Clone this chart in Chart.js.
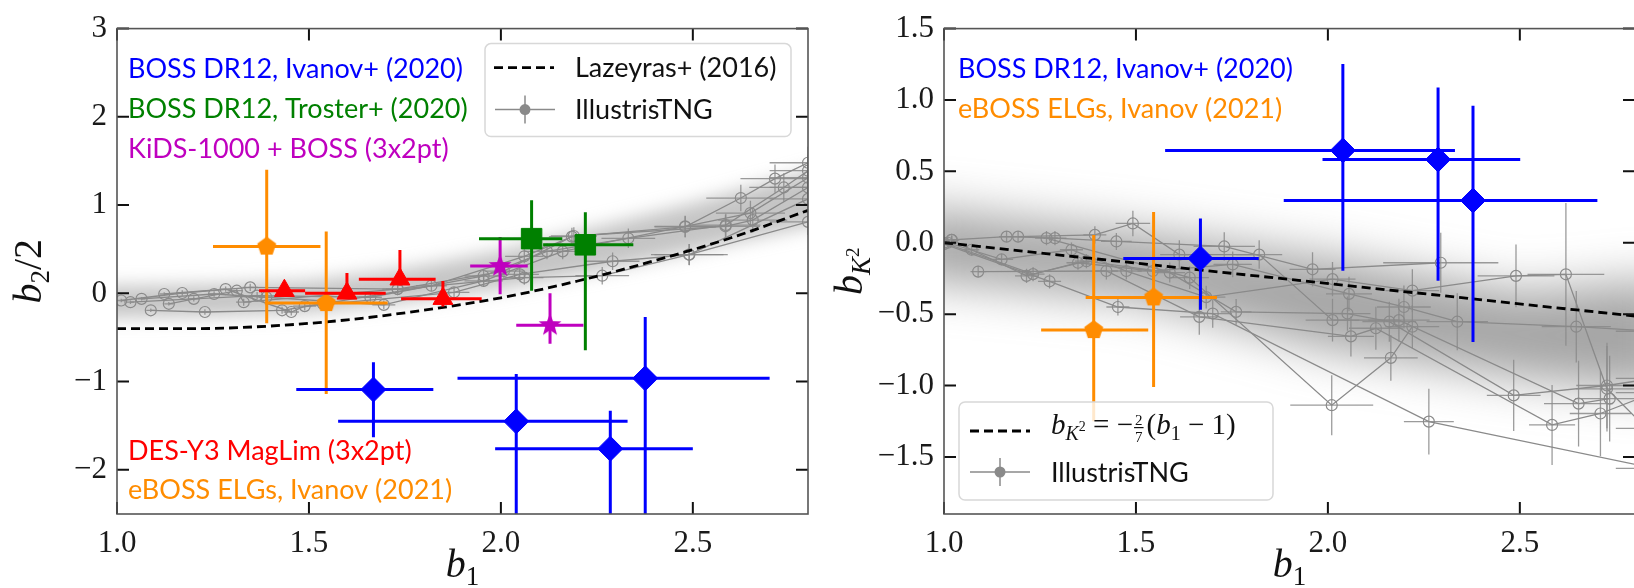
<!DOCTYPE html>
<html>
<head>
<meta charset="utf-8">
<script src="https://cdn.jsdelivr.net/npm/chart.js@4.4.1/dist/chart.umd.min.js"></script>
<style>
  html, body { margin: 0; padding: 0; background: #fff; overflow: hidden; }
  #wrap { position: relative; width: 1634px; height: 588px; overflow: hidden; }
  canvas { position: absolute; top: 0; }
  #bias2 { left: 0; }
  #biasK { left: 830px; }
</style>
</head>
<body>
<div id="wrap">
  <canvas id="bias2" width="830" height="588"></canvas>
  <canvas id="biasK" width="830" height="588"></canvas>
</div>
<script>
// ticks
const b1Ticks = [1.0, 1.5, 2.0, 2.5];
const b1Labels = ['1.0', '1.5', '2.0', '2.5'];
const b2Ticks = [-2, -1, 0, 1, 2, 3];
const b2Labels = ['−2', '−1', '0', '1', '2', '3'];
const bKTicks = [-1.5, -1.0, -0.5, 0.0, 0.5, 1.0, 1.5];
const bKLabels = ['−1.5', '−1.0', '−0.5', '0.0', '0.5', '1.0', '1.5'];

const surveyNamesB2 = ['BOSS DR12, Ivanov+ (2020)', 'BOSS DR12, Troster+ (2020)', 'KiDS-1000 + BOSS (3x2pt)',
  'DES-Y3 MagLim (3x2pt)', 'eBOSS ELGs, Ivanov (2021)'];
const surveyNamesBK = ['BOSS DR12, Ivanov+ (2020)', 'eBOSS ELGs, Ivanov (2021)'];

// measurements: [b1, value, b1 low, b1 high, value low, value high]
const bossB2 = [
  [1.668, -1.09, 1.467, 1.824, -1.63, -0.78],
  [2.040, -1.45, 1.576, 2.330, -2.60, -0.915],
  [2.376, -0.963, 1.887, 2.700, -2.60, -0.267],
  [2.285, -1.76, 1.985, 2.500, -2.60, -1.33]
];
const trosterB2 = [
  [2.080, 0.62, 1.943, 2.160, 0.03, 1.056],
  [2.220, 0.55, 2.110, 2.345, -0.645, 0.918]
];
const kidsB2 = [
  [1.998, 0.31, 1.920, 2.070, -0.01, 0.64],
  [2.128, -0.36, 2.040, 2.215, -0.57, 0.0]
];
const desB2 = [
  [1.436, 0.03, 1.370, 1.490, -0.02, 0.10],
  [1.599, 0.00, 1.490, 1.700, -0.06, 0.23],
  [1.737, 0.16, 1.630, 1.830, 0.09, 0.49],
  [1.849, -0.06, 1.740, 1.950, -0.15, 0.14]
];
const ebossB2 = [
  [1.390, 0.53, 1.250, 1.530, -0.34, 1.40],
  [1.545, -0.11, 1.385, 1.705, -1.14, 0.70]
];
const bossBK = [
  [1.668, -0.11, 1.467, 1.820, -0.47, 0.17],
  [2.039, 0.647, 1.576, 2.331, -0.197, 1.252],
  [2.287, 0.583, 1.986, 2.501, -0.266, 1.087],
  [2.378, 0.296, 1.885, 2.702, -0.695, 0.96]
];
const ebossBK = [
  [1.390, -0.612, 1.253, 1.532, -1.25, 0.055],
  [1.546, -0.383, 1.369, 1.711, -1.01, 0.216]
];

// Lazeyras+ (2016) fit and the local-Lagrangian tidal bias
const lazB1 = [1.0, 1.2, 1.4, 1.6, 1.8, 2.0, 2.2, 2.4, 2.6, 2.8];
const lazB2 = [-0.40, -0.40, -0.37, -0.30, -0.19, -0.05, 0.14, 0.37, 0.63, 0.94];
const tidalB1 = [1.0, 2.8];
const tidalBK = [0.0, -0.514];

// IllustrisTNG tracks: [b1, value, b1 err, value err]
const tngB2a = [[1.011, -0.081, 0.01, 0.02], [1.170, 0.004, 0.015, 0.03], [1.347, 0.068, 0.02, 0.04], [1.731, 0.049, 0.04, 0.06],
  [2.008, 0.253, 0.05, 0.08], [2.185, 0.643, 0.06, 0.10], [2.480, 0.754, 0.08, 0.12], [2.625, 1.080, 0.09, 0.15], [2.714, 1.300, 0.09, 0.16], [2.80, 1.48, 0.10, 0.18]];
const tngB2b = [[1.035, -0.100, 0.01, 0.02], [1.200, -0.062, 0.015, 0.03], [1.365, -0.025, 0.02, 0.04], [1.660, -0.044, 0.03, 0.05],
  [1.955, 0.197, 0.05, 0.08], [2.120, 0.476, 0.06, 0.09], [2.332, 0.624, 0.07, 0.11], [2.586, 0.773, 0.09, 0.13], [2.737, 1.200, 0.09, 0.16], [2.80, 1.39, 0.10, 0.18]];
const tngB2c = [[1.064, -0.062, 0.01, 0.02], [1.253, -0.007, 0.015, 0.03], [1.389, -0.044, 0.02, 0.04], [1.695, -0.130, 0.03, 0.05],
  [1.955, 0.142, 0.05, 0.07], [2.161, 0.476, 0.06, 0.09], [2.480, 0.760, 0.08, 0.12], [2.650, 0.910, 0.09, 0.14], [2.80, 1.31, 0.10, 0.17]];
const tngB2d = [[1.088, -0.192, 0.012, 0.02], [1.229, -0.211, 0.015, 0.03], [1.430, -0.192, 0.02, 0.04], [1.536, -0.118, 0.03, 0.05],
  [1.819, 0.086, 0.04, 0.06], [2.061, 0.420, 0.05, 0.08], [2.190, 0.650, 0.06, 0.10], [2.585, 0.760, 0.09, 0.13], [2.656, 0.830, 0.09, 0.14], [2.80, 1.20, 0.10, 0.17]];
const tngB2e = [[1.123, -0.007, 0.012, 0.02], [1.283, 0.049, 0.015, 0.03], [1.454, -0.211, 0.02, 0.04], [1.489, -0.144, 0.03, 0.05],
  [1.878, 0.012, 0.04, 0.06], [2.049, 0.216, 0.05, 0.08], [2.291, 0.364, 0.07, 0.10], [2.491, 0.439, 0.10, 0.12], [2.80, 1.07, 0.10, 0.16]];
const tngB2f = [[1.135, -0.118, 0.012, 0.02], [1.312, 0.030, 0.015, 0.03], [1.330, -0.100, 0.02, 0.04], [1.731, 0.049, 0.03, 0.05],
  [2.061, 0.179, 0.05, 0.08], [2.264, 0.200, 0.07, 0.10], [2.490, 0.440, 0.09, 0.12], [2.80, 0.81, 0.10, 0.15]];

const tngBKa = [[1.020, 0.020, 0.02, 0.03], [1.163, 0.043, 0.02, 0.04], [1.289, 0.032, 0.03, 0.05], [1.449, 0.009, 0.04, 0.06],
  [1.730, -0.026, 0.08, 0.10], [1.960, -0.186, 0.06, 0.12], [2.294, -0.140, 0.15, 0.21]];
const tngBKb = [[1.010, 0.000, 0.02, 0.03], [1.150, -0.117, 0.03, 0.04], [1.332, -0.049, 0.03, 0.05], [1.475, -0.198, 0.04, 0.06],
  [1.683, -0.381, 0.05, 0.08], [2.012, -0.255, 0.06, 0.12], [2.220, -0.335, 0.07, 0.15], [2.490, -0.232, 0.10, 0.22],
  [2.620, -0.221, 0.10, 0.50], [2.727, -1.023, 0.08, 0.30], [2.830, -1.300, 0.08, 0.30]];
const tngBKc = [[1.020, 0.020, 0.02, 0.03], [1.072, -0.049, 0.02, 0.04], [1.215, -0.232, 0.03, 0.05], [1.349, -0.140, 0.03, 0.05],
  [1.544, -0.198, 0.04, 0.07], [1.752, -0.152, 0.05, 0.09], [2.055, -0.358, 0.06, 0.12], [2.198, -0.450, 0.07, 0.15],
  [2.337, -0.553, 0.08, 0.20], [2.647, -0.588, 0.09, 0.25], [2.850, -0.620, 0.10, 0.30]];
const tngBKd = [[1.000, 0.000, 0.02, 0.03], [1.232, -0.220, 0.03, 0.05], [1.371, -0.129, 0.03, 0.05], [1.588, -0.209, 0.04, 0.07],
  [1.761, -0.484, 0.04, 0.09], [2.051, -0.496, 0.06, 0.12], [2.160, -0.553, 0.07, 0.14], [2.484, -1.069, 0.07, 0.25],
  [2.727, -1.000, 0.08, 0.30], [2.850, -0.950, 0.10, 0.30]];
const tngBKe = [[1.000, -0.010, 0.02, 0.03], [1.275, -0.270, 0.03, 0.05], [1.453, -0.450, 0.03, 0.06], [1.700, -0.496, 0.05, 0.10],
  [2.263, -1.253, 0.065, 0.23], [2.850, -1.580, 0.10, 0.30]];
const tngBKf = [[1.089, -0.202, 0.02, 0.04], [1.423, -0.198, 0.03, 0.06], [1.665, -0.519, 0.05, 0.125], [2.060, -0.656, 0.06, 0.14],
  [2.125, -0.599, 0.07, 0.15], [2.584, -1.276, 0.06, 0.28], [2.710, -1.196, 0.08, 0.30], [2.850, -1.050, 0.10, 0.30]];
const tngBKg = [[1.193, 0.043, 0.02, 0.04], [1.393, 0.055, 0.03, 0.06], [1.492, 0.135, 0.045, 0.09], [1.613, -0.083, 0.05, 0.10],
  [1.821, -0.083, 0.06, 0.10], [2.012, -0.542, 0.07, 0.15], [2.185, -0.542, 0.08, 0.15], [2.653, -1.127, 0.09, 0.30], [2.734, -1.092, 0.09, 0.30]];
const tngBKh = [[1.267, 0.032, 0.03, 0.05], [1.640, -0.244, 0.05, 0.08], [2.010, -1.138, 0.108, 0.21], [2.164, -0.806, 0.07, 0.16],
  [2.220, -0.588, 0.07, 0.15]];

// shaded TNG scatter envelope
const bandB1 = [0.9, 1.25, 1.5, 1.75, 2.0, 2.25, 2.5, 2.9];
const bandB2Lo = [-0.28, -0.26, -0.22, -0.10, 0.05, 0.25, 0.48, 0.85];
const bandB2Hi = [0.08, 0.10, 0.14, 0.28, 0.48, 0.75, 1.02, 1.50];
const bandKB1 = [0.9, 1.5, 2.0, 2.5, 2.9];
const bandKLo = [-0.25, -0.40, -0.75, -0.95, -1.05];
const bandKHi = [0.25, 0.08, -0.10, -0.35, -0.25];

const BLUE = '#0000ff', GREEN = '#008000', MAGENTA = '#bf00bf', RED = '#ff0000', ORANGE = '#ff8c00', GREY = '#8a8a8a';
const LABEL_FONT = '27px Lato, "Open Sans", sans-serif';
const SERIF = '"Liberation Serif", "DejaVu Serif", serif';
const tickFont = { family: SERIF, size: 31 };

function polyMarker(color, r, points, inner) {
  const s = Math.ceil(2 * r + 2);
  const c = document.createElement('canvas');
  c.width = c.height = s;
  const g = c.getContext('2d');
  g.fillStyle = color;
  g.beginPath();
  const n = inner ? points * 2 : points;
  for (let i = 0; i < n; i++) {
    const t = -Math.PI / 2 + i * 2 * Math.PI / n;
    const rr = inner && i % 2 ? r * inner : r;
    g.lineTo(s / 2 + rr * Math.cos(t), s / 2 + rr * Math.sin(t));
  }
  g.closePath();
  g.fill();
  return c;
}
const pentagon = polyMarker(ORANGE, 10, 5);
const starMark = polyMarker(MAGENTA, 12, 5, 0.42);

function obsSet(rows, color, style, radius) {
  return {
    data: rows.map(r => ({ x: r[0], y: r[1], xl: r[2], xh: r[3], yl: r[4], yh: r[5] })),
    showLine: false, pointStyle: style, pointRadius: radius,
    pointBackgroundColor: color, pointBorderColor: color, pointBorderWidth: 1,
    errColor: color, errWidth: 3, clip: 0, order: 0
  };
}
function tngSet(rows) {
  return {
    data: rows.map(r => ({ x: r[0], y: r[1], xl: r[0] - r[2], xh: r[0] + r[2], yl: r[1] - r[3], yh: r[1] + r[3] })),
    showLine: true, borderColor: GREY, borderWidth: 1.3,
    pointStyle: 'circle', pointRadius: 5.5, pointBorderColor: GREY,
    pointBackgroundColor: 'rgba(0,0,0,0)', pointBorderWidth: 1.2,
    errColor: 'rgba(138,138,138,0.85)', errWidth: 1.3, clip: 0, order: 2
  };
}
function curveSet(xs, ys) {
  return {
    data: xs.map((v, i) => ({ x: v, y: ys[i] })),
    showLine: true, borderColor: '#000', borderWidth: 2.8, borderDash: [9, 5],
    cubicInterpolationMode: 'monotone', pointRadius: 0, clip: 0, order: 1
  };
}

function axisX() {
  return {
    type: 'linear', min: 1.0, max: 2.8,
    afterBuildTicks: s => { s.ticks = b1Ticks.map(v => ({ value: v })); },
    afterFit: s => { s.height = 74; },
    grid: { display: false, drawTicks: false }, border: { display: false },
    ticks: { autoSkip: false, maxRotation: 0, padding: 11, color: '#1a1a1a', font: tickFont, callback: (v, i) => b1Labels[i] }
  };
}
function axisY(min, max, ticks, labels, width) {
  return {
    type: 'linear', min: min, max: max,
    afterBuildTicks: s => { s.ticks = ticks.map(v => ({ value: v })); },
    afterFit: s => { s.width = width; },
    grid: { display: false, drawTicks: false }, border: { display: false },
    ticks: { autoSkip: false, padding: 10, color: '#1a1a1a', font: tickFont, callback: (v, i) => labels[i] }
  };
}

function clipToArea(ctx, a) {
  ctx.beginPath();
  ctx.rect(a.left, a.top, a.right - a.left, a.bottom - a.top);
  ctx.clip();
}

// soft grey envelope behind the simulation tracks
const shadedBand = {
  id: 'shadedBand',
  beforeDatasetsDraw(chart, args, o) {
    const { ctx, chartArea: a, scales: { x, y } } = chart;
    ctx.save();
    clipToArea(ctx, a);
    ctx.filter = `blur(${o.blur}px)`;
    ctx.fillStyle = o.color;
    ctx.beginPath();
    o.xs.forEach((v, i) => ctx.lineTo(x.getPixelForValue(v), y.getPixelForValue(o.hi[i])));
    for (let i = o.xs.length - 1; i >= 0; i--) ctx.lineTo(x.getPixelForValue(o.xs[i]), y.getPixelForValue(o.lo[i]));
    ctx.closePath();
    ctx.fill();
    ctx.restore();
  }
};

const errorBars = {
  id: 'errorBars',
  beforeDatasetDraw(chart, args) {
    const ds = chart.data.datasets[args.index];
    if (!ds.errColor) return;
    const { ctx, chartArea: a, scales: { x, y } } = chart;
    ctx.save();
    clipToArea(ctx, a);
    ctx.strokeStyle = ds.errColor;
    ctx.lineWidth = ds.errWidth;
    ctx.beginPath();
    ds.data.forEach(p => {
      const px = x.getPixelForValue(p.x), py = y.getPixelForValue(p.y);
      ctx.moveTo(x.getPixelForValue(p.xl), py);
      ctx.lineTo(x.getPixelForValue(p.xh), py);
      ctx.moveTo(px, y.getPixelForValue(p.yl));
      ctx.lineTo(px, y.getPixelForValue(p.yh));
    });
    ctx.stroke();
    ctx.restore();
  }
};

// boxed axes with inward ticks on all four sides
const frame = {
  id: 'frame',
  afterDatasetsDraw(chart) {
    const { ctx, chartArea: a, scales: { x, y } } = chart;
    ctx.save();
    ctx.strokeStyle = '#111';
    ctx.lineWidth = 2;
    ctx.beginPath();
    x.ticks.forEach(t => {
      const px = x.getPixelForValue(t.value);
      ctx.moveTo(px, a.bottom); ctx.lineTo(px, a.bottom - 12);
      ctx.moveTo(px, a.top); ctx.lineTo(px, a.top + 12);
    });
    y.ticks.forEach(t => {
      const py = y.getPixelForValue(t.value);
      ctx.moveTo(a.left, py); ctx.lineTo(a.left + 12, py);
      ctx.moveTo(a.right, py); ctx.lineTo(a.right - 12, py);
    });
    ctx.stroke();
    ctx.strokeStyle = '#555';
    ctx.lineWidth = 1.6;
    ctx.strokeRect(a.left, a.top, a.right - a.left, a.bottom - a.top);
    ctx.restore();
  }
};

// runs: [text, size, italic, baseline shift]
function runsWidth(ctx, runs) {
  let w = 0;
  runs.forEach(r => { ctx.font = `${r[2] ? 'italic ' : ''}${r[1]}px ${SERIF}`; w += ctx.measureText(r[0]).width; });
  return w;
}
function drawRuns(ctx, runs, x, y) {
  runs.forEach(r => {
    ctx.font = `${r[2] ? 'italic ' : ''}${r[1]}px ${SERIF}`;
    ctx.fillText(r[0], x, y + r[3]);
    x += ctx.measureText(r[0]).width;
  });
  return x;
}
function drawTitleX(chart, runs) {
  const { ctx, chartArea: a } = chart;
  ctx.fillStyle = '#111';
  drawRuns(ctx, runs, (a.left + a.right) / 2 - runsWidth(ctx, runs) / 2, a.bottom + 63);
}
function drawTitleY(chart, runs, offset) {
  const { ctx, chartArea: a } = chart;
  ctx.save();
  ctx.translate(a.left - offset, (a.top + a.bottom) / 2);
  ctx.rotate(-Math.PI / 2);
  ctx.fillStyle = '#111';
  drawRuns(ctx, runs, -runsWidth(ctx, runs) / 2, 0);
  ctx.restore();
}

function legendBox(ctx, x0, y0, w, h) {
  ctx.save();
  ctx.fillStyle = 'rgba(255,255,255,0.8)';
  ctx.strokeStyle = '#d8d8d8';
  ctx.lineWidth = 1.5;
  ctx.beginPath();
  ctx.roundRect(x0, y0, w, h, 6);
  ctx.fill();
  ctx.stroke();
  ctx.restore();
}
function dashSample(ctx, x0, x1, y) {
  ctx.save();
  ctx.strokeStyle = '#000';
  ctx.lineWidth = 2.8;
  ctx.setLineDash([9, 5]);
  ctx.beginPath(); ctx.moveTo(x0, y); ctx.lineTo(x1, y); ctx.stroke();
  ctx.restore();
}
function tngSample(ctx, cx, cy) {
  ctx.save();
  ctx.strokeStyle = GREY;
  ctx.lineWidth = 1.5;
  ctx.beginPath();
  ctx.moveTo(cx - 30, cy); ctx.lineTo(cx + 30, cy);
  ctx.moveTo(cx, cy - 14); ctx.lineTo(cx, cy + 14);
  ctx.stroke();
  ctx.fillStyle = GREY;
  ctx.beginPath(); ctx.arc(cx, cy, 5.5, 0, Math.PI * 2); ctx.fill();
  ctx.restore();
}

const b2Extras = {
  id: 'b2Extras',
  afterDraw(chart) {
    const { ctx, chartArea: a } = chart;
    ctx.save();
    ctx.font = LABEL_FONT;
    const colors = [BLUE, GREEN, MAGENTA, RED, ORANGE];
    const baselines = [a.top + 49, a.top + 89, a.top + 129, a.bottom - 54, a.bottom - 15];
    surveyNamesB2.forEach((t, i) => { ctx.fillStyle = colors[i]; ctx.fillText(t, a.left + 11, baselines[i]); });

    const x0 = a.right - 323, y0 = a.top + 15;
    legendBox(ctx, x0, y0, 306, 93);
    dashSample(ctx, x0 + 9, x0 + 69, a.top + 39);
    tngSample(ctx, x0 + 40, a.top + 81);
    ctx.font = LABEL_FONT;
    ctx.fillStyle = '#111';
    ctx.fillText('Lazeyras+ (2016)', x0 + 90, a.top + 48);
    ctx.fillText('IllustrisTNG', x0 + 90, a.top + 90);

    drawTitleX(chart, [['b', 40, true, 0], ['1', 27, false, 8]]);
    drawTitleY(chart, [['b', 40, true, 0], ['2', 27, false, 8], ['/2', 40, false, 0]], 76);
    ctx.restore();
  }
};

const bKExtras = {
  id: 'bKExtras',
  afterDraw(chart) {
    const { ctx, chartArea: a } = chart;
    ctx.save();
    ctx.font = LABEL_FONT;
    ctx.fillStyle = BLUE; ctx.fillText(surveyNamesBK[0], a.left + 14, a.top + 49);
    ctx.fillStyle = ORANGE; ctx.fillText(surveyNamesBK[1], a.left + 14, a.top + 89);

    const x0 = a.left + 15, y0 = a.bottom - 112;
    legendBox(ctx, x0, y0, 314, 98);
    dashSample(ctx, x0 + 11, x0 + 71, a.bottom - 83);
    tngSample(ctx, x0 + 41, a.bottom - 42);

    // b_{K^2} = -2/7 (b_1 - 1)
    ctx.fillStyle = '#111';
    const base = a.bottom - 80;
    let cx = drawRuns(ctx, [['b', 29, true, 0], ['K', 20, true, 6], ['2', 14, false, -3], [' = −', 29, false, 0]], x0 + 92, base);
    ctx.font = `15px ${SERIF}`;
    const fw = ctx.measureText('7').width;
    ctx.fillText('2', cx + 2, base - 9);
    ctx.fillText('7', cx + 2, base + 8);
    ctx.fillRect(cx + 1, base - 7, fw + 2, 1.2);
    drawRuns(ctx, [['(', 29, false, 0], ['b', 29, true, 0], ['1', 20, false, 6], [' − 1)', 29, false, 0]], cx + fw + 6, base);

    ctx.font = LABEL_FONT;
    ctx.fillText('IllustrisTNG', x0 + 92, a.bottom - 32);

    drawTitleX(chart, [['b', 40, true, 0], ['1', 27, false, 8]]);
    drawTitleY(chart, [['b', 40, true, 0], ['K', 27, true, 8], ['2', 19, false, -3]], 82);
    ctx.restore();
  }
};

const common = {
  responsive: false, animation: false, events: []
};

new Chart(document.getElementById('bias2'), {
  type: 'scatter',
  data: {
    datasets: [
      obsSet(bossB2, BLUE, 'rectRot', 12.5),
      obsSet(trosterB2, GREEN, 'rect', 14.5),
      obsSet(kidsB2, MAGENTA, starMark, 10),
      obsSet(desB2, RED, 'triangle', 11.5),
      obsSet(ebossB2, ORANGE, pentagon, 10),
      curveSet(lazB1, lazB2),
      tngSet(tngB2a), tngSet(tngB2b), tngSet(tngB2c),
      tngSet(tngB2d), tngSet(tngB2e), tngSet(tngB2f)
    ]
  },
  options: {
    ...common,
    layout: { padding: { top: 20, right: 22, left: 0, bottom: 0 } },
    scales: { x: axisX(), y: axisY(-2.5, 3, b2Ticks, b2Labels, 117) },
    plugins: {
      legend: { display: false }, tooltip: { enabled: false },
      shadedBand: { xs: bandB1, lo: bandB2Lo, hi: bandB2Hi, color: 'rgba(140,140,140,0.5)', blur: 9 }
    }
  },
  plugins: [shadedBand, errorBars, frame, b2Extras]
});

new Chart(document.getElementById('biasK'), {
  type: 'scatter',
  data: {
    datasets: [
      obsSet(bossBK, BLUE, 'rectRot', 12.5),
      obsSet(ebossBK, ORANGE, pentagon, 10),
      curveSet(tidalB1, tidalBK),
      tngSet(tngBKa), tngSet(tngBKb), tngSet(tngBKc), tngSet(tngBKd),
      tngSet(tngBKe), tngSet(tngBKf), tngSet(tngBKg), tngSet(tngBKh)
    ]
  },
  options: {
    ...common,
    layout: { padding: { top: 20, right: 25, left: 0, bottom: 0 } },
    scales: { x: axisX(), y: axisY(-1.9, 1.5, bKTicks, bKLabels, 114) },
    plugins: {
      legend: { display: false }, tooltip: { enabled: false },
      shadedBand: { xs: bandKB1, lo: bandKLo, hi: bandKHi, color: 'rgba(110,110,110,0.62)', blur: 24 }
    }
  },
  plugins: [shadedBand, errorBars, frame, bKExtras]
});
</script>
</body>
</html>
